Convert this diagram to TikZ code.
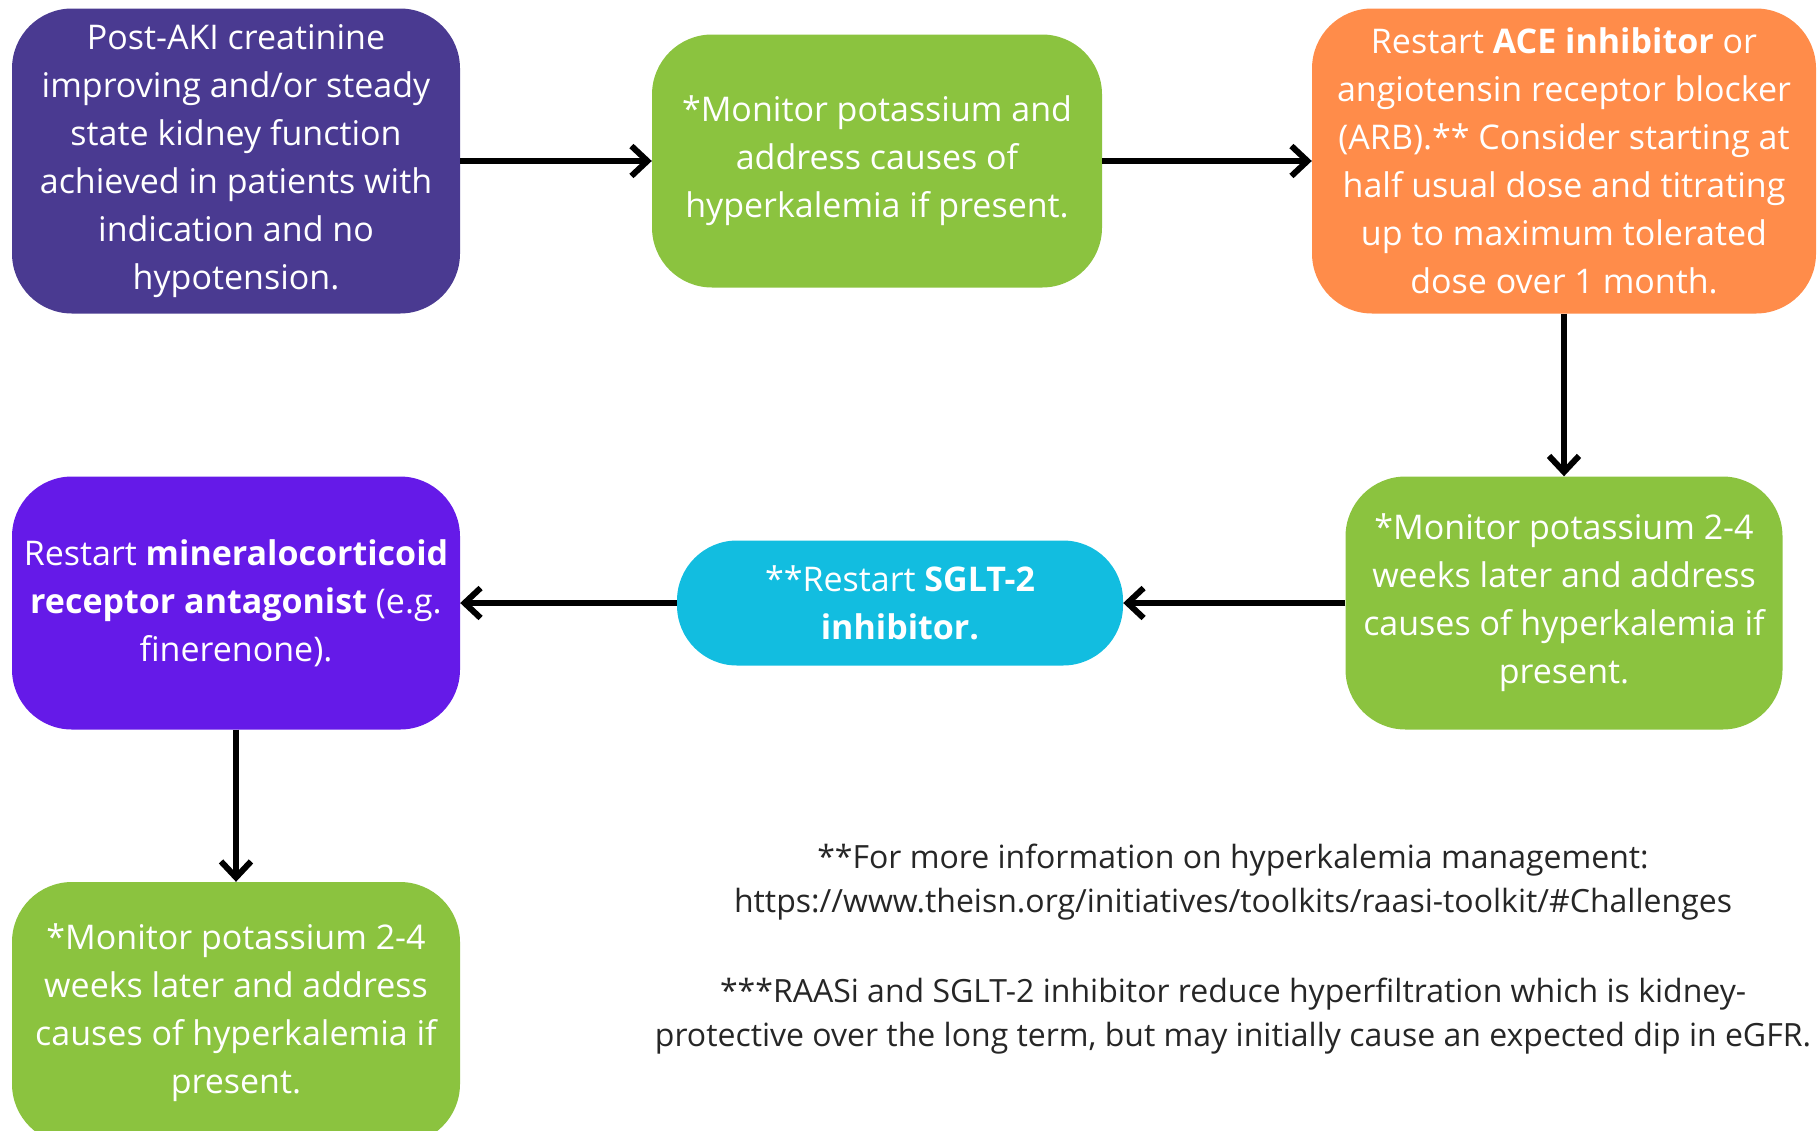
\documentclass[tikz,border=0pt]{standalone}
\usepackage{fontspec}
\setmainfont{Open Sans}
\usetikzlibrary{arrows.meta}

\definecolor{aubergine}{RGB}{74,58,145}
\definecolor{leafgreen}{RGB}{139,195,63}
\definecolor{tangerine}{RGB}{255,140,74}
\definecolor{skyblue}{RGB}{18,189,224}
\definecolor{mraviolet}{RGB}{101,26,232}

\tikzset{
    stepbox/.style={rounded corners=60pt, text=white, align=center, inner sep=0pt,
        font=\fontsize{34}{48}\selectfont},
    flow/.style={line width=6pt, -{Straight Barb[length=16pt,width=30pt]}},
    footnote/.style={align=center, text=black!85, font=\fontsize{32}{44}\selectfont}
}

\begin{document}
\begin{tikzpicture}[x=1pt, y=-1pt]
            \useasboundingbox (0,0) rectangle (1819,1130);
            \clip (0,0) rectangle (1819,1130);

            \node[stepbox, fill=aubergine, minimum width=448pt, minimum height=305pt] (post) at (236,161)
                {Post-AKI creatinine\\improving and/or steady\\state kidney function\\achieved in patients with\\indication and no\\hypotension.};
            \node[stepbox, fill=leafgreen, minimum width=450pt, minimum height=253pt] (monk) at (877,161)
                {*Monitor potassium and\\address causes of\\hyperkalemia if present.};
            \node[stepbox, fill=tangerine, minimum width=504pt, minimum height=305pt] (acei) at (1564,161)
                {Restart \textbf{ACE inhibitor} or\\angiotensin receptor blocker\\(ARB).** Consider starting at\\half usual dose and titrating\\up to maximum tolerated\\dose over 1 month.};

            \node[stepbox, fill=leafgreen, minimum width=437pt, minimum height=253pt] (monacei) at (1564,603)
                {*Monitor potassium 2-4\\weeks later and address\\causes of hyperkalemia if\\present.};
            \node[stepbox, fill=skyblue, minimum width=446pt, minimum height=125pt] (sglt) at (900,603)
                {**Restart \textbf{SGLT-2}\\\textbf{inhibitor.}};
            \node[stepbox, fill=mraviolet, minimum width=448pt, minimum height=253pt] (mra) at (236,603)
                {Restart \textbf{mineralocorticoid}\\\textbf{receptor antagonist} (e.g.\\finerenone).};

            \node[stepbox, fill=leafgreen, minimum width=448pt, minimum height=262pt] (monmra) at (236,1013)
                {*Monitor potassium 2-4\\weeks later and address\\causes of hyperkalemia if\\present.};

            \draw[flow] (post) -- (monk);
            \draw[flow] (monk) -- (acei);
            \draw[flow] (acei) -- (monacei);
            \draw[flow] (monacei) -- (sglt);
            \draw[flow] (sglt) -- (mra);
            \draw[flow] (mra) -- (monmra);

            \node[footnote] (info) at (1233,882)
                {**For more information on hyperkalemia management:\\https://www.theisn.org/initiatives/toolkits/raasi-toolkit/\#Challenges};
            \node[footnote] (dip) at (1233,1016)
                {***RAASi and SGLT-2 inhibitor reduce hyperfiltration which is kidney-\\protective over the long term, but may initially cause an expected dip in eGFR.};
        \end{tikzpicture}
\end{document}
